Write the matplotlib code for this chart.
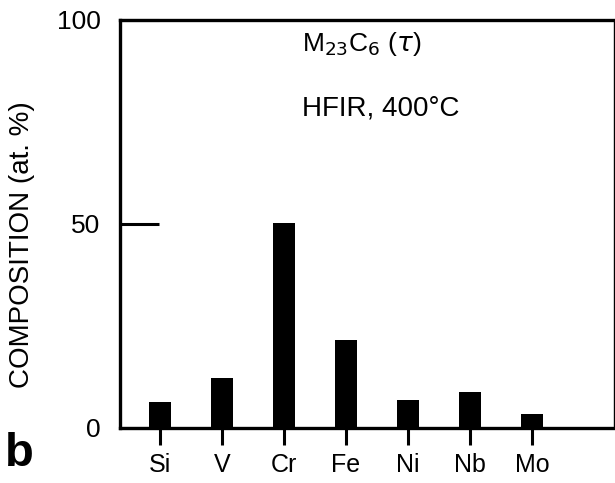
import matplotlib
matplotlib.use("Agg")
import matplotlib.pyplot as plt
import numpy as np

plt.rcParams['font.family'] = ['Liberation Sans', 'DejaVu Sans']

elements = ['Si', 'V', 'Cr', 'Fe', 'Ni', 'Nb', 'Mo']
composition = [6.4, 12.2, 50.3, 21.5, 6.8, 8.8, 3.4]
yticks = [0, 50, 100]

fig = plt.figure(figsize=(6.15, 4.83), dpi=100)
ax = fig.add_axes([0.195, 0.114, 0.803, 0.845])

x = np.arange(len(elements))
ax.bar(x, composition, width=0.36, color='black', zorder=3)

ax.set_xlim(-0.645, 7.32)
ax.set_ylim(0, 100)

ax.set_yticks(yticks)
ax.set_yticklabels([str(t) for t in yticks], fontsize=19)
ax.tick_params(axis='y', direction='in', length=28, width=2.2, pad=14)
ax.set_xticks(x)
ax.set_xticklabels(elements, fontsize=18)
ax.tick_params(axis='x', direction='out', length=12, width=2.2, pad=6)

for side in ['left', 'bottom', 'top']:
    ax.spines[side].set_linewidth(2.4)
ax.spines['right'].set_linewidth(1.0)

ax.set_ylabel('COMPOSITION (at. %)', fontsize=20)
ax.yaxis.set_label_coords(-0.172, 0.45)

ax.text(0.368, 0.975, r'M$_{23}$C$_6$ ($\tau$)', transform=ax.transAxes,
        fontsize=19, va='top', ha='left')
ax.text(0.368, 0.815, 'HFIR, 400°C', transform=ax.transAxes,
        fontsize=20, va='top', ha='left')

fig.text(0.008, 0.015, 'b', fontsize=34, fontweight='bold', ha='left', va='bottom')

fig.savefig('out.png', dpi=100)
